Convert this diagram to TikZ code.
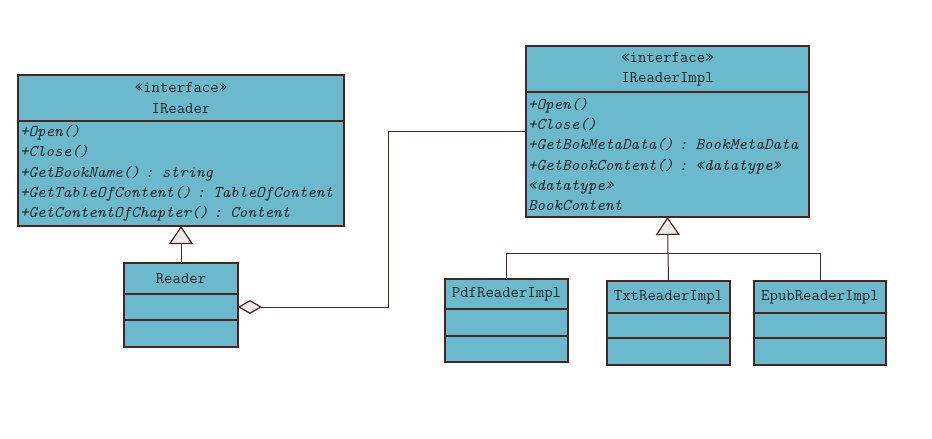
\documentclass[tikz,border=0pt]{standalone}
\usepackage{fontspec}
\usetikzlibrary{arrows.meta,positioning}
\definecolor{classfill}{HTML}{6BB9CC}
\definecolor{classline}{HTML}{4A2520}
\definecolor{tipfill}{HTML}{EDEBEA}
\tikzset{
  part/.style={draw=classline, fill=classfill, line width=1.4pt, anchor=north west,
    inner sep=0pt, outer sep=0pt, text=black!85, font=\ttfamily\fontsize{16.3}{20.3}\selectfont},
  ops/.style={part, align=left, inner xsep=2pt, font=\ttfamily\fontsize{16.3}{20.3}\selectfont\itshape},
  realize/.style={draw=classline, line width=1pt,
    -{Triangle[fill=tipfill, length=18pt, width=24pt, line width=1.2pt]}},
  aggr/.style={draw=classline, line width=1pt,
    -{Diamond[fill=tipfill, length=24pt, width=14pt, line width=1.2pt]}},
  assoc/.style={draw=classline, line width=1pt}
}
\begin{document}
\begin{tikzpicture}[x=1pt, y=-1pt]
    \useasboundingbox (0,0) rectangle (932,439);

    % IReader
    \node[part, minimum width=326, minimum height=46, align=center] (ireadertitle) at (18,75)
      {«interface»\\IReader};
    \node[ops, text width=322, minimum height=105] (ireadermeth) at (ireadertitle.south west)
      {+Open()\\+Close()\\+GetBookName() : string\\+GetTableOfContent() : TableOfContent\\+GetContentOfChapter() : Content};

    % IReaderImpl
    \node[part, minimum width=283, minimum height=46, align=center] (implitle) at (526,46)
      {«interface»\\IReaderImpl};
    \node[ops, text width=279, minimum height=125] (implmeth) at (implitle.south west)
      {+Open()\\+Close()\\+GetBokMetaData() : BookMetaData\\+GetBookContent() : «datatype»\\«datatype»\\BookContent};

    % Reader
    \node[part, minimum width=114, minimum height=31] (readertitle) at (124,263) {Reader};
    \node[part, minimum width=114, minimum height=26] (readermid) at (readertitle.south west) {};
    \node[part, minimum width=114, minimum height=27] (readerbot) at (readermid.south west) {};

    % implementations
    \node[part, minimum width=123, minimum height=30] (pdftitle) at (445,279) {PdfReaderImpl};
    \node[part, minimum width=123, minimum height=27] (pdfmid) at (pdftitle.south west) {};
    \node[part, minimum width=123, minimum height=26] (pdfbot) at (pdfmid.south west) {};

    \node[part, minimum width=123, minimum height=32] (txttitle) at (607,281) {TxtReaderImpl};
    \node[part, minimum width=123, minimum height=25] (txtmid) at (txttitle.south west) {};
    \node[part, minimum width=123, minimum height=27] (txtbot) at (txtmid.south west) {};

    \node[part, minimum width=132, minimum height=32] (epubtitle) at (754,281) {EpubReaderImpl};
    \node[part, minimum width=132, minimum height=25] (epubmid) at (epubtitle.south west) {};
    \node[part, minimum width=132, minimum height=27] (epubbot) at (epubmid.south west) {};

    % Connectors
    \coordinate (aggbend) at (388,131);
    \coordinate (junction) at (668,253);
    \draw[realize] (readertitle.north) -- (ireadermeth.south);
    \draw[aggr] (aggbend -| implmeth.west) -- (aggbend) |- (readermid.east);
    \draw[realize] (junction) -- (implmeth.south);
    \draw[assoc] (pdftitle.north) |- (junction -| epubtitle.north) -- (epubtitle.north);
    \draw[assoc] (txttitle.north) -- (junction);
\end{tikzpicture}
\end{document}
